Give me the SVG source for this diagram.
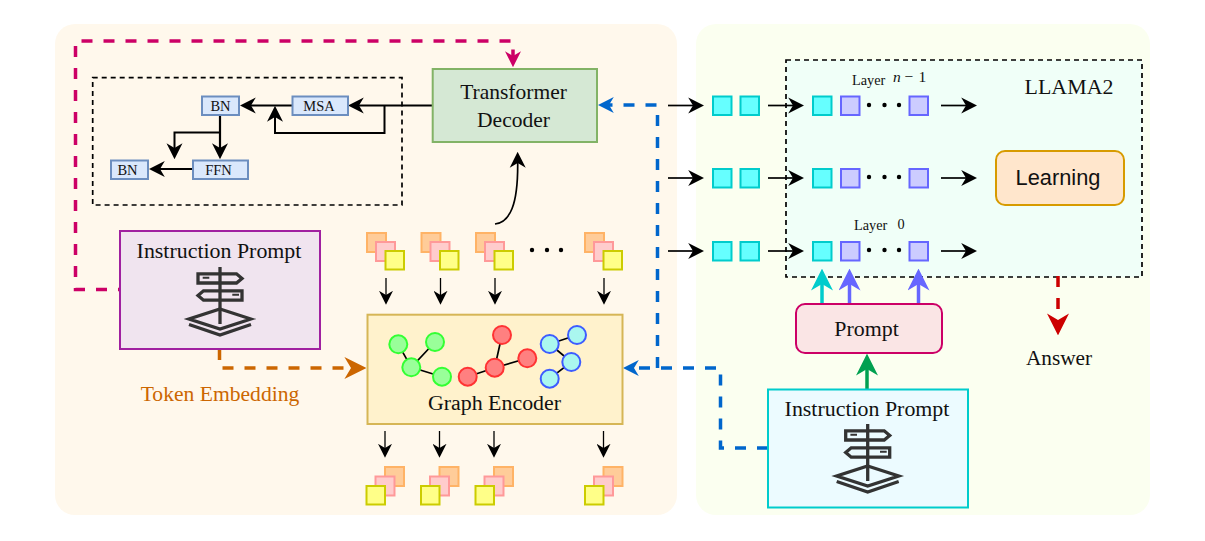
<svg xmlns="http://www.w3.org/2000/svg" width="1205" height="541" viewBox="0 0 1205 541">
<style>
text{font-family:"Liberation Serif","Times New Roman",serif;font-size:21.9px;fill:#111;text-anchor:middle}
.small{font-size:14.5px}
.lay{font-size:14.3px;text-anchor:start}
.b{fill:#dae8fc;stroke:#6c8ebf;stroke-width:2}
.org{fill:#ffcc99;stroke:#ffb366;stroke-width:2}
.pnk{fill:#ffcccc;stroke:#ff9999;stroke-width:2}
.yel{fill:#ffff88;stroke:#cccc00;stroke-width:2}
.cy{fill:#66ffff;stroke:#00cccc;stroke-width:2}
.pu{fill:#ccccff;stroke:#6666ff;stroke-width:2}
.dot{fill:#000}
.gn{fill:#99ff99;stroke:#33ff33;stroke-width:2}
.rd{fill:#ff8080;stroke:#ff3333;stroke-width:2}
.bl{fill:#aaf7ef;stroke:#3d5cff;stroke-width:2}
.e{stroke:#000;stroke-width:1.7;fill:none}
.c{fill:none;stroke:#000}
.icon{fill:none;stroke:#333;stroke-width:3.3}
</style>
<defs>
<marker id="mK14" markerUnits="userSpaceOnUse" markerWidth="14" markerHeight="14" viewBox="0 0 10 10" refX="3" refY="5" orient="auto"><path d="M0,0L10,5L0,10L3,5Z" fill="#000"/></marker>
<marker id="mK17" markerUnits="userSpaceOnUse" markerWidth="16" markerHeight="17" viewBox="0 0 10 10" refX="3" refY="5" orient="auto"><path d="M0,0L10,5L0,10L3,5Z" fill="#000"/></marker>
<marker id="mB" markerUnits="userSpaceOnUse" markerWidth="16" markerHeight="17" viewBox="0 0 10 10" refX="3" refY="5" orient="auto"><path d="M0,0L10,5L0,10L3,5Z" fill="#0066cc"/></marker>
<marker id="mP" markerUnits="userSpaceOnUse" markerWidth="16" markerHeight="17" viewBox="0 0 10 10" refX="3" refY="5" orient="auto"><path d="M0,0L10,5L0,10L3,5Z" fill="#cc0066"/></marker>
<marker id="mO" markerUnits="userSpaceOnUse" markerWidth="22" markerHeight="22" viewBox="0 0 10 10" refX="3" refY="5" orient="auto"><path d="M0,0L10,5L0,10L3,5Z" fill="#cc6600"/></marker>
<marker id="mC" markerUnits="userSpaceOnUse" markerWidth="22" markerHeight="22" viewBox="0 0 10 10" refX="3" refY="5" orient="auto"><path d="M0,0L10,5L0,10L3,5Z" fill="#00cccc"/></marker>
<marker id="mV" markerUnits="userSpaceOnUse" markerWidth="22" markerHeight="22" viewBox="0 0 10 10" refX="3" refY="5" orient="auto"><path d="M0,0L10,5L0,10L3,5Z" fill="#6666ff"/></marker>
<marker id="mG" markerUnits="userSpaceOnUse" markerWidth="22" markerHeight="22" viewBox="0 0 10 10" refX="3" refY="5" orient="auto"><path d="M0,0L10,5L0,10L3,5Z" fill="#00a050"/></marker>
<marker id="mR" markerUnits="userSpaceOnUse" markerWidth="22" markerHeight="22" viewBox="0 0 10 10" refX="3" refY="5" orient="auto"><path d="M0,0L10,5L0,10L3,5Z" fill="#cc0000"/></marker>
<g id="signpost" class="icon">
<path d="M0,0V57"/>
<path d="M-22,6.800H16.500L22,11.500L16.500,16H-22Z"/>
<path d="M22,23.800H-16.500L-22,28.500L-16.500,33.200H22Z"/>
<path d="M-17.300,10.700H-10.700M12.300,27.700H19" stroke-width="2"/>
<path d="M0,42L31,52L0,62L-31,52Z"/>
<path d="M-31,57.500L0,68L31,57.500"/>
</g>
<g id="stackD">
<rect class="org" x="0" y="0" width="19" height="19"/>
<rect class="pnk" x="9" y="9" width="19" height="19"/>
<rect class="yel" x="18.500" y="18" width="18.500" height="18.500"/>
</g>
<g id="stackU">
<rect class="org" x="18.500" y="0" width="19" height="19"/>
<rect class="pnk" x="9" y="9.500" width="19" height="19"/>
<rect class="yel" x="0" y="19" width="18.500" height="18.500"/>
</g>
</defs>

<g id="panels">
<rect x="55" y="24" width="622" height="491" rx="20" fill="#fff8ec"/>
<rect x="696" y="24" width="454" height="491" rx="20" fill="#fbfff0"/>
</g>

<g id="llama-box">
<rect x="786" y="60" width="356" height="217" fill="#f0fff8" stroke="#000" stroke-width="1.700" stroke-dasharray="5 4"/>
</g>
<g id="transformer-detail-box">
<rect x="92.700" y="77.700" width="309.300" height="127.300" fill="none" stroke="#000" stroke-width="1.700" stroke-dasharray="5 4"/>
</g>

<g id="connectors">
<path class="c" stroke-width="1.800" d="M432,105.500H359" marker-end="url(#mK17)"/>
<path class="c" stroke-width="1.800" d="M292,105.500H251" marker-end="url(#mK17)"/>
<path class="c" stroke-width="2" d="M384.500,105.500V133H275V117" marker-end="url(#mK17)"/>
<path class="c" stroke-width="2.200" d="M220,115V148" marker-end="url(#mK17)"/>
<path class="c" stroke-width="2" d="M220,132.500H174.500V148" marker-end="url(#mK17)"/>
<path class="c" stroke-width="1.800" d="M192.500,169H160" marker-end="url(#mK17)"/>
<path class="c" stroke-width="1.700" d="M495,224C510,222 518,205 517.700,163" marker-end="url(#mK17)"/>
<path class="c" stroke-width="1.300" d="M386,278V295" marker-end="url(#mK14)"/>
<path class="c" stroke-width="1.300" d="M440.500,278V295" marker-end="url(#mK14)"/>
<path class="c" stroke-width="1.300" d="M495,278V295" marker-end="url(#mK14)"/>
<path class="c" stroke-width="1.300" d="M604,278V295" marker-end="url(#mK14)"/>
<path class="c" stroke-width="1.300" d="M385,431V448" marker-end="url(#mK14)"/>
<path class="c" stroke-width="1.300" d="M439.500,431V448" marker-end="url(#mK14)"/>
<path class="c" stroke-width="1.300" d="M494,431V448" marker-end="url(#mK14)"/>
<path class="c" stroke-width="1.300" d="M603.500,431V448" marker-end="url(#mK14)"/>
<path class="c" stroke-width="1.700" d="M668,105.500H693" marker-end="url(#mK17)"/>
<path class="c" stroke-width="1.700" d="M668,178H693" marker-end="url(#mK17)"/>
<path class="c" stroke-width="1.700" d="M668,251H693" marker-end="url(#mK17)"/>
<path class="c" stroke-width="1.700" d="M768,105.500H793" marker-end="url(#mK17)"/>
<path class="c" stroke-width="1.700" d="M768,178H793" marker-end="url(#mK17)"/>
<path class="c" stroke-width="1.700" d="M768,251H793" marker-end="url(#mK17)"/>
<path class="c" stroke-width="1.700" d="M941,105.500H966" marker-end="url(#mK17)"/>
<path class="c" stroke-width="1.700" d="M941,178H966" marker-end="url(#mK17)"/>
<path class="c" stroke-width="1.700" d="M941,251H966" marker-end="url(#mK17)"/>
<path class="c" style="stroke:#cc0066" stroke-width="3.500" stroke-dasharray="11 11" stroke-dashoffset="9" d="M120,289.500H75.500V41H513V56" marker-end="url(#mP)"/>
<path class="c" style="stroke:#cc6600" stroke-width="3.500" stroke-dasharray="11 11" d="M219.500,349V368H351" marker-end="url(#mO)"/>
<path class="c" style="stroke:#0066cc" stroke-width="3.500" stroke-dasharray="11 11" d="M768,448H720.500V368H634" marker-end="url(#mB)"/>
<path class="c" style="stroke:#0066cc" stroke-width="3.500" stroke-dasharray="11 11" d="M657.500,368V105H609" marker-end="url(#mB)"/>
<path class="c" style="stroke:#cc0000" stroke-width="3.500" stroke-dasharray="11 11" d="M1058,276V320" marker-end="url(#mR)"/>
<path class="c" style="stroke:#00cccc" stroke-width="3.500" d="M822,304V284" marker-end="url(#mC)"/>
<path class="c" style="stroke:#6666ff" stroke-width="3.500" d="M849.500,304V284" marker-end="url(#mV)"/>
<path class="c" style="stroke:#6666ff" stroke-width="3.500" d="M918.500,304V284" marker-end="url(#mV)"/>
<path class="c" style="stroke:#00a050" stroke-width="3.500" d="M867,389V369" marker-end="url(#mG)"/>
</g>

<g id="bn-top"><rect class="b" x="202" y="96.500" width="37" height="18.500"/><text class="small" x="220.500" y="111">BN</text></g>
<g id="msa"><rect class="b" x="292.500" y="96.500" width="55.500" height="18.500"/><text class="small" x="319" y="111">MSA</text></g>
<g id="ffn"><rect class="b" x="193" y="160.500" width="55" height="18.500"/><text class="small" x="218.500" y="175">FFN</text></g>
<g id="bn-bottom"><rect class="b" x="111" y="160.500" width="37" height="18.500"/><text class="small" x="127.500" y="175">BN</text></g>

<g id="transformer-decoder">
<rect x="432.700" y="69" width="164.300" height="73" fill="#d5e8d4" stroke="#82b366" stroke-width="2"/>
<text x="513.500" y="99" style="font-size:21.500px">Transformer</text><text x="513.500" y="127" style="font-size:21.500px">Decoder</text>
</g>

<g id="instruction-prompt-left">
<rect x="120" y="231" width="200" height="118" fill="#f0e4ef" stroke="#a020a0" stroke-width="2"/>
<text x="219" y="258">Instruction Prompt</text>
<use href="#signpost" x="220" y="267"/>
</g>
<g id="token-embedding"><text x="220" y="401" style="fill:#cc6600;font-size:21.600px">Token Embedding</text></g>

<g id="input-tokens">
<use href="#stackD" x="367" y="233"/><use href="#stackD" x="421.500" y="233"/><use href="#stackD" x="476" y="233"/><use href="#stackD" x="585" y="233"/>
<circle class="dot" cx="532" cy="250" r="2.200"/><circle class="dot" cx="547" cy="250" r="2.200"/><circle class="dot" cx="561" cy="250" r="2.200"/>
</g>

<g id="graph-encoder">
<rect x="367.500" y="314.700" width="255" height="109.300" fill="#fff2cc" stroke="#d6b656" stroke-width="2"/>
<path class="e" d="M398.300,344.300L411.300,367.300L435,342M411.300,367.300L442,376.700"/>
<path class="e" d="M502,335L494.700,367.700L527.300,358.300M494.700,367.700L467.700,376.700"/>
<path class="e" d="M577,335L549.700,344L571.300,362L549.700,378.700"/>
<circle class="gn" cx="398.300" cy="344.300" r="9"/><circle class="gn" cx="435" cy="342" r="9"/><circle class="gn" cx="411.300" cy="367.300" r="9"/><circle class="gn" cx="442" cy="376.700" r="9"/>
<circle class="rd" cx="502" cy="335" r="9"/><circle class="rd" cx="494.700" cy="367.700" r="9"/><circle class="rd" cx="527.300" cy="358.300" r="9"/><circle class="rd" cx="467.700" cy="376.700" r="9"/>
<circle class="bl" cx="549.700" cy="344" r="9"/><circle class="bl" cx="577" cy="335" r="9"/><circle class="bl" cx="571.300" cy="362" r="9"/><circle class="bl" cx="549.700" cy="378.700" r="9"/>
<text x="494.500" y="410">Graph Encoder</text>
</g>

<g id="output-tokens">
<use href="#stackU" x="366.500" y="467"/><use href="#stackU" x="421" y="467"/><use href="#stackU" x="475.500" y="467"/><use href="#stackU" x="585" y="467"/>
</g>

<g id="token-rows">
<rect class="cy" x="713" y="96.500" width="18.500" height="18.500"/><rect class="cy" x="740.500" y="96.500" width="18.500" height="18.500"/>
<rect class="cy" x="813" y="96.500" width="18.500" height="18.500"/><rect class="pu" x="841" y="96.500" width="18.500" height="18.500"/><rect class="pu" x="909.500" y="96.500" width="18.500" height="18.500"/>
<circle class="dot" cx="869" cy="105" r="2.200"/><circle class="dot" cx="884.500" cy="105" r="2.200"/><circle class="dot" cx="899" cy="105" r="2.200"/>
<rect class="cy" x="713" y="169" width="18.500" height="18.500"/><rect class="cy" x="740.500" y="169" width="18.500" height="18.500"/>
<rect class="cy" x="813" y="169" width="18.500" height="18.500"/><rect class="pu" x="841" y="169" width="18.500" height="18.500"/><rect class="pu" x="909.500" y="169" width="18.500" height="18.500"/>
<circle class="dot" cx="869" cy="177" r="2.200"/><circle class="dot" cx="884.500" cy="177" r="2.200"/><circle class="dot" cx="899" cy="177" r="2.200"/>
<rect class="cy" x="713" y="242" width="18.500" height="18.500"/><rect class="cy" x="740.500" y="242" width="18.500" height="18.500"/>
<rect class="cy" x="813" y="242" width="18.500" height="18.500"/><rect class="pu" x="841" y="242" width="18.500" height="18.500"/><rect class="pu" x="909.500" y="242" width="18.500" height="18.500"/>
<circle class="dot" cx="869" cy="250" r="2.200"/><circle class="dot" cx="884.500" cy="250" r="2.200"/><circle class="dot" cx="899" cy="250" r="2.200"/>
</g>

<g id="layer-labels">
<text class="lay" x="852" y="85">Layer</text>
<text class="lay" x="893" y="81.500" style="font-style:italic;font-size:15.500px">n</text>
<text class="lay" x="904.500" y="81.500" style="font-size:15.500px">−</text>
<text class="lay" x="918.500" y="81.500" style="font-size:15.500px">1</text>
<text class="lay" x="854" y="230">Layer</text>
<text class="lay" x="897.500" y="229">0</text>
</g>

<g id="llama-label"><text x="1069" y="93.500">LLAMA2</text></g>

<g id="learning">
<rect x="996" y="151" width="128" height="54" rx="9" fill="#ffe6cc" stroke="#d79b00" stroke-width="2"/>
<text x="1058" y="185" style="font-family:'Liberation Sans',Arial,sans-serif;font-size:21.800px">Learning</text>
</g>

<g id="prompt">
<rect x="796" y="304" width="146" height="49" rx="9" fill="#fae5e5" stroke="#cc0066" stroke-width="2"/>
<text x="866.500" y="336">Prompt</text>
</g>

<g id="instruction-prompt-right">
<rect x="768" y="389.500" width="200" height="118" fill="#ecfbff" stroke="#00cccc" stroke-width="2"/>
<text x="867" y="416">Instruction Prompt</text>
<use href="#signpost" x="867.700" y="424"/>
</g>

<g id="answer"><text x="1059" y="365" style="font-size:21.300px">Answer</text></g>
</svg>
